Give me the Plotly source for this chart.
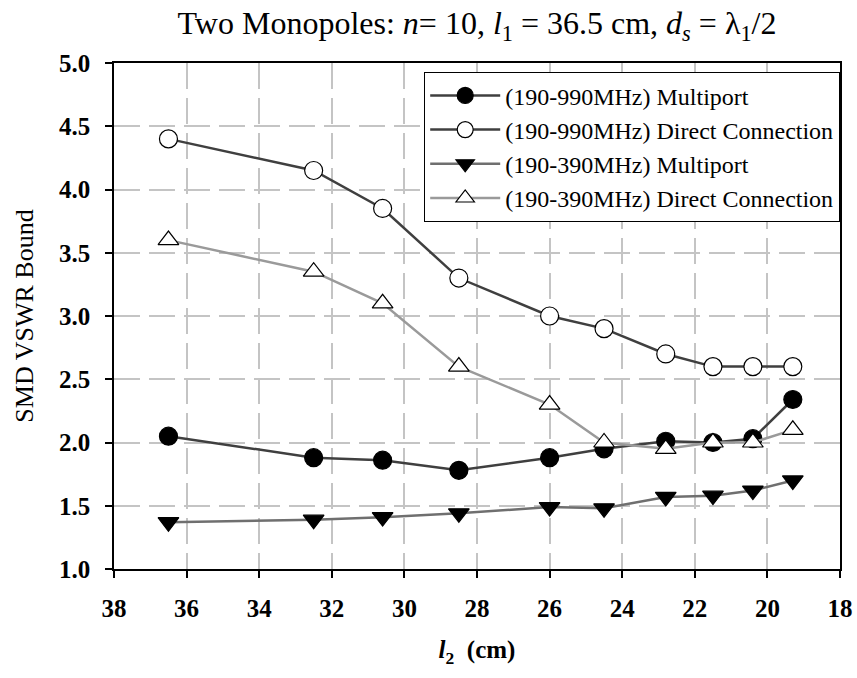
import plotly.graph_objects as go

# Monopole length l2 (cm) for each simulated configuration
l2_cm = [36.5, 32.5, 30.6, 28.5, 26.0, 24.5, 22.8, 21.5, 20.4, 19.3]

# SMD VSWR bound per configuration
vswr_990_multiport = [2.05, 1.88, 1.86, 1.78, 1.88, 1.95, 2.01, 2.00, 2.03, 2.34]
vswr_990_direct = [4.40, 4.15, 3.85, 3.30, 3.00, 2.90, 2.70, 2.60, 2.60, 2.60]
vswr_390_multiport = [1.37, 1.39, 1.41, 1.44, 1.49, 1.48, 1.57, 1.58, 1.62, 1.70]
vswr_390_direct = [3.60, 3.35, 3.10, 2.60, 2.30, 2.00, 1.95, 2.00, 2.00, 2.10]

series_names = [
    "(190-990MHz) Multiport",
    "(190-990MHz) Direct Connection",
    "(190-390MHz) Multiport",
    "(190-390MHz) Direct Connection",
]

x_ticks = [38, 36, 34, 32, 30, 28, 26, 24, 22, 20, 18]
y_ticks = [1.0, 1.5, 2.0, 2.5, 3.0, 3.5, 4.0, 4.5, 5.0]

SERIF = "'Liberation Serif', 'Times New Roman', Times, serif"

styles = [
    dict(y=vswr_990_multiport, line="#3f3f3f", symbol="circle", fill="black", size=18),
    dict(y=vswr_990_direct, line="#3f3f3f", symbol="circle", fill="white", size=18),
    dict(y=vswr_390_multiport, line="#6f6f6f", symbol="triangle-down", fill="black", size=18),
    dict(y=vswr_390_direct, line="#9a9a9a", symbol="triangle-up", fill="white", size=18),
]

fig = go.Figure()
for name, st in zip(series_names, styles):
    fig.add_trace(
        go.Scatter(
            x=l2_cm,
            y=st["y"],
            name=name,
            mode="lines+markers",
            line=dict(color=st["line"], width=2.5),
            marker=dict(
                symbol=st["symbol"],
                size=st["size"],
                color=st["fill"],
                line=dict(color="black", width=1.2),
            ),
        )
    )

axis_common = dict(
    showline=True,
    linecolor="black",
    linewidth=1.5,
    mirror=True,
    ticks="outside",
    ticklen=7,
    tickwidth=1.5,
    tickcolor="black",
    showgrid=True,
    gridcolor="#c4c4c4",
    gridwidth=1.5,
    griddash="26px,9px",
    zeroline=False,
    automargin=False,
    tickfont=dict(family=SERIF, size=25, color="black", weight="bold"),
)

fig.update_xaxes(
    range=[38, 18],
    tickvals=x_ticks,
    ticktext=[str(v) for v in x_ticks],
    ticklabelstandoff=9,
    title=dict(
        text="<b><i>l</i><sub>2</sub>  (cm)</b>",
        font=dict(family=SERIF, size=25, color="black"),
        standoff=20,
    ),
    **axis_common,
)
fig.update_yaxes(
    range=[1.0, 5.0],
    tickvals=y_ticks,
    ticktext=[f"{v:.1f}" for v in y_ticks],
    ticklabelstandoff=10,
    title=dict(
        text="SMD VSWR Bound",
        font=dict(family=SERIF, size=26, color="black"),
        standoff=18,
    ),
    **axis_common,
)

fig.update_layout(
    width=857,
    height=678,
    margin=dict(l=114, r=17, t=63, b=109),
    paper_bgcolor="white",
    plot_bgcolor="white",
    title=dict(
        text="Two Monopoles: <i>n</i>= 10, <i>l</i><sub>1</sub> = 36.5 cm, "
        "<i>d<sub>s</sub></i> = λ<sub>1</sub>/2",
        font=dict(family=SERIF, size=32, color="black"),
        x=0.5,
        xref="paper",
        xanchor="center",
        y=1 - 23 / 678,
        yref="container",
        yanchor="middle",
    ),
    legend=dict(
        x=1.0,
        xanchor="right",
        y=0.982,
        yanchor="top",
        bgcolor="white",
        bordercolor="black",
        borderwidth=1.2,
        font=dict(family=SERIF, size=24, color="black"),
        itemwidth=70,
        tracegroupgap=0,
    ),
    showlegend=True,
)

fig.write_html("out.html")
